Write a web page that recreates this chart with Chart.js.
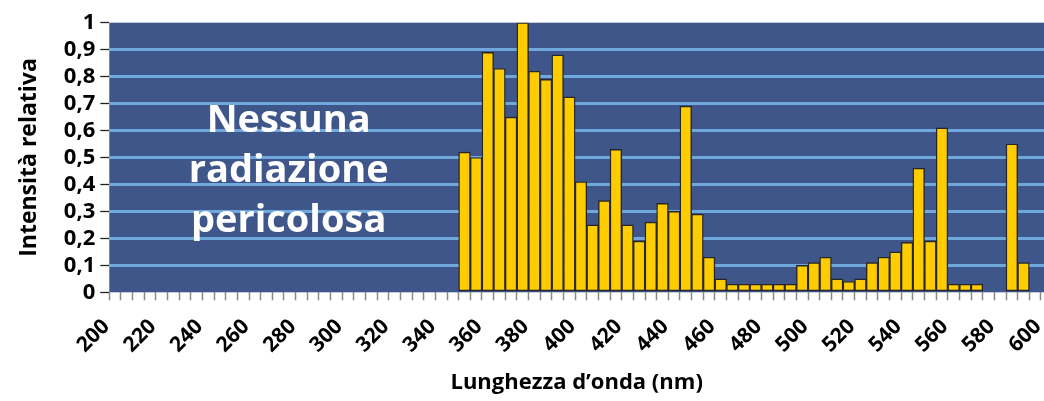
<!DOCTYPE html>
<html lang="it">
<head>
<meta charset="utf-8">
<title>Intensità relativa</title>
<script src="https://cdn.jsdelivr.net/npm/chart.js@4.4.1/dist/chart.umd.min.js"></script>
<style>
    html, body { margin: 0; padding: 0; background: #fff; overflow: hidden; }
    #wrap { width: 1044px; height: 401px; }
</style>
</head>
<body>
<div id="wrap"><canvas id="spettro" width="1044" height="401"></canvas></div>
<script>
// Inizio di ogni intervallo da 5 nm
const lunghezze = [350, 355, 360, 365, 370, 375, 380, 385, 390, 395,
                   400, 405, 410, 415, 420, 425, 430, 435, 440, 445,
                   450, 455, 460, 465, 470, 475, 480, 485, 490, 495,
                   500, 505, 510, 515, 520, 525, 530, 535, 540, 545,
                   550, 555, 560, 565, 570, 575, 580, 585, 590];

// Intensità relativa (null = nessuna barra)
const intensita = [0.52, 0.50, 0.89, 0.83, 0.65, 1.00, 0.82, 0.79, 0.88, 0.725,
                   0.41, 0.25, 0.34, 0.53, 0.25, 0.19, 0.26, 0.33, 0.30, 0.69,
                   0.29, 0.13, 0.05, 0.03, 0.03, 0.03, 0.03, 0.03, 0.03, 0.10,
                   0.11, 0.13, 0.05, 0.04, 0.05, 0.11, 0.13, 0.15, 0.185, 0.46,
                   0.19, 0.61, 0.03, 0.03, 0.03, null, null, 0.55, 0.11];

const larghezzaBanda = 5;
const etichetteX = [200, 220, 240, 260, 280, 300, 320, 340, 360, 380, 400,
                    420, 440, 460, 480, 500, 520, 540, 560, 580, 600];
const righeNota = ['Nessuna', 'radiazione', 'pericolosa'];

const FONT = "'Open Sans', 'DejaVu Sans', sans-serif";
const BLU_FONDO = '#3e568a';
const BLU_GRIGLIA = '#6fa8dc';

Chart.defaults.font.family = FONT;
Chart.defaults.font.weight = 'bold';
Chart.defaults.color = '#000';

// sfondo blu dell'area del grafico
const sfondoArea = {
    id: 'sfondoArea',
    beforeDraw(chart) {
        const { ctx, chartArea: a } = chart;
        ctx.save();
        ctx.fillStyle = BLU_FONDO;
        ctx.fillRect(a.left, a.top, a.right - a.left, a.bottom - a.top);
        ctx.restore();
    }
};

// scritta bianca a sinistra
const notaTesto = {
    id: 'notaTesto',
    afterDatasetsDraw(chart) {
        const { ctx, scales } = chart;
        const x = scales.x.getPixelForValue(277);
        ctx.save();
        ctx.fillStyle = '#ffffff';
        ctx.font = `bold 38px ${FONT}`;
        ctx.textAlign = 'center';
        ctx.textBaseline = 'alphabetic';
        righeNota.forEach((riga, i) => {
            ctx.fillText(riga, x, 132 + i * 50);
        });
        ctx.restore();
    }
};

const punti = lunghezze.map((l, i) => ({ x: l + larghezzaBanda / 2, y: intensita[i] }));

new Chart(document.getElementById('spettro'), {
    type: 'bar',
    data: {
        datasets: [{
            data: punti,
            backgroundColor: '#ffcc00',
            borderColor: '#262626',
            borderWidth: 1.4,
            borderSkipped: false,
            barPercentage: 1,
            categoryPercentage: 1
        }]
    },
    options: {
        responsive: false,
        animation: false,
        events: [],
        layout: { padding: { top: 22.7, right: 0, bottom: 0, left: 0 } },
        plugins: {
            legend: { display: false },
            tooltip: { enabled: false }
        },
        scales: {
            x: {
                type: 'linear',
                min: 200,
                max: 601.3,
                offset: false,
                border: { display: false },
                grid: {
                    offset: false,
                    drawOnChartArea: false,
                    drawTicks: true,
                    tickLength: 8,
                    tickColor: '#8a8a8a',
                    tickWidth: 1.5
                },
                ticks: {
                    stepSize: 5,
                    includeBounds: false,
                    autoSkip: false,
                    minRotation: 45,
                    maxRotation: 45,
                    padding: 14,
                    labelOffset: -3,
                    color: '#000',
                    font: { family: FONT, size: 21, weight: 'bold' },
                    callback: (v) => etichetteX.includes(v) ? String(v) : ''
                },
                title: {
                    display: true,
                    text: 'Lunghezza d’onda (nm)',
                    color: '#000',
                    font: { family: FONT, size: 22, weight: 'bold' },
                    padding: { top: 4, bottom: 5 }
                },
                afterFit(scale) {
                    scale.height = 108.7;
                    scale.paddingLeft = 0;
                    scale.paddingRight = 0;
                }
            },
            y: {
                min: 0,
                max: 1,
                border: { display: false },
                grid: {
                    color: (c) => (c.tick && c.tick.value > 0.05 && c.tick.value < 0.95) ? BLU_GRIGLIA : 'rgba(0,0,0,0)',
                    lineWidth: 3,
                    drawTicks: true,
                    tickLength: 9,
                    tickColor: '#222',
                    tickWidth: 1.3
                },
                ticks: {
                    stepSize: 0.1,
                    autoSkip: false,
                    padding: 5,
                    color: '#000',
                    font: { family: FONT, size: 22, weight: 'bold' },
                    callback: (v) => String(Math.round(v * 10) / 10).replace('.', ',')
                },
                title: {
                    display: true,
                    text: 'Intensità relativa',
                    color: '#000',
                    font: { family: FONT, size: 23, weight: 'bold' },
                    padding: { top: 16, bottom: 0 }
                },
                afterFit(scale) {
                    scale.width = 109.3;
                }
            }
        }
    },
    plugins: [sfondoArea, notaTesto]
});
</script>
</body>
</html>
